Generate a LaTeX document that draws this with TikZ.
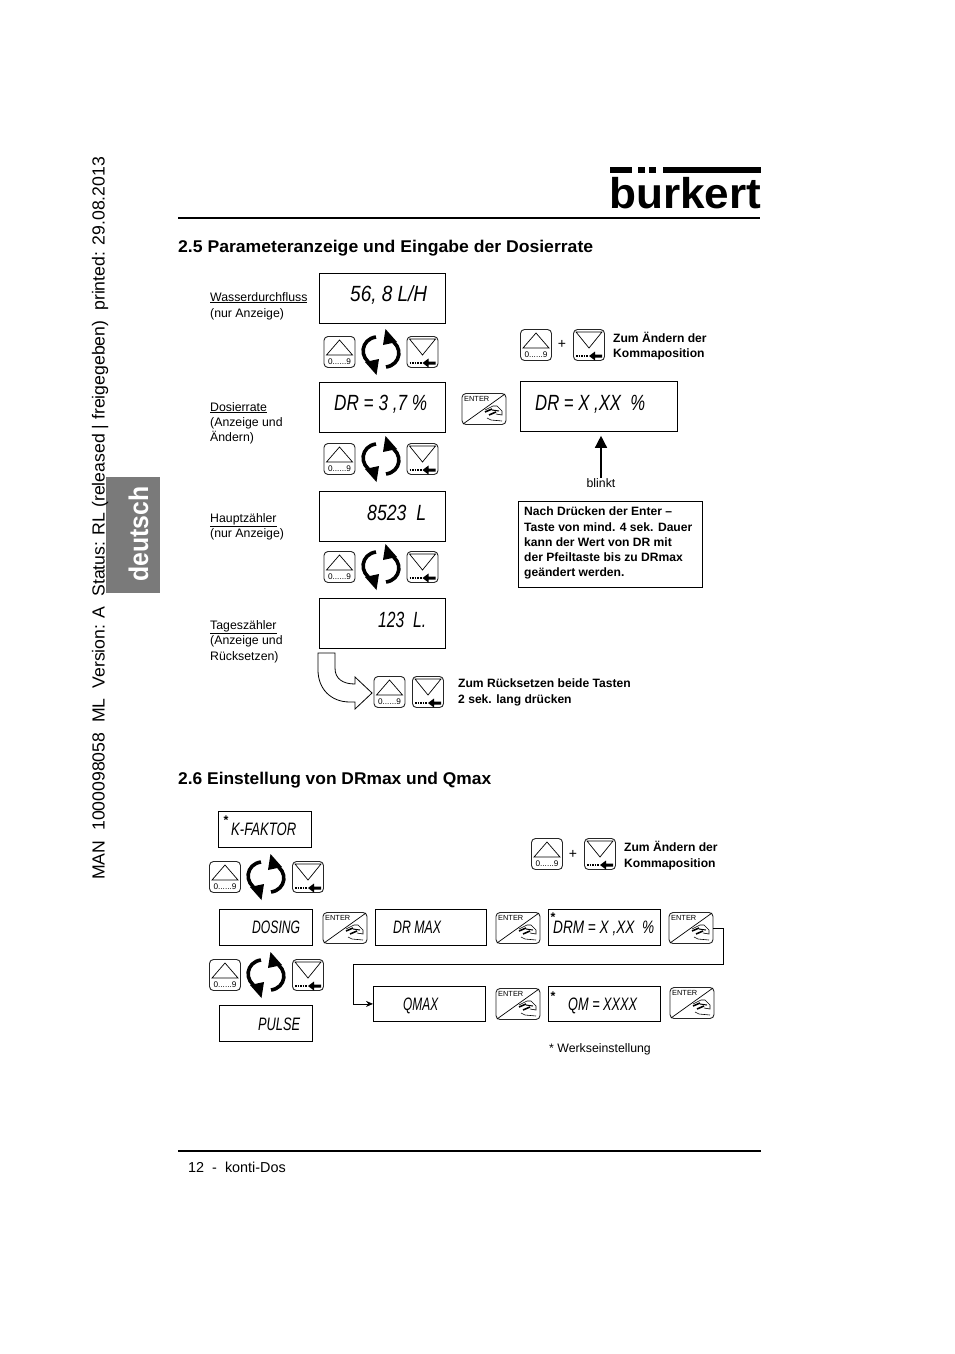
\documentclass[tikz,border=0pt]{standalone}
\usepackage{fontspec}
\setmainfont{Liberation Sans}
\usetikzlibrary{arrows.meta}
\newcommand{\fitw}[2]{\resizebox{#1pt}{\height}{#2}}
\newcommand{\lcdA}[2]{\resizebox{#1pt}{\height}{\fontsize{22}{22}\selectfont\itshape #2}}
\newcommand{\lcdB}[2]{\resizebox{#1pt}{\height}{\fontsize{18}{18}\selectfont\itshape #2}}
\tikzset{
  x=1pt,y=-1pt,
  disp/.style={draw=black,line width=0.8pt,anchor=north west,inner sep=0pt},
  lcdt/.style={anchor=base west,inner sep=0pt},
  lab/.style={anchor=base west,inner sep=0pt,font=\fontsize{12.3}{13}\selectfont},
  bold/.style={anchor=base west,inner sep=0pt,font=\fontsize{12.1}{13}\selectfont\bfseries},
  head/.style={anchor=base west,inner sep=0pt},
  keybox/.style={draw=black!85,line width=0.9pt,rounded corners=4pt,minimum width=31pt,minimum height=31pt,inner sep=0pt},
  enterbox/.style={draw=black!85,line width=0.9pt,rounded corners=4pt,minimum width=44pt,minimum height=31pt,inner sep=0pt},
  conn/.style={draw=black,line width=0.8pt},
  upkey/.pic={
    \node[keybox] (-box) at (0,0) {};
    \draw[line width=0.7pt] (-13,3) -- (0,-12) -- (13,3) -- cycle;
    \node[inner sep=0pt,font=\fontsize{8.2}{9}\selectfont] at (0,9.5) {0......9};
  },
  downkey/.pic={
    \node[keybox] (-box) at (0,0) {};
    \draw[line width=0.7pt] (-13,-13) -- (0,3) -- (13,-13) -- cycle;
    \draw[line width=1.7pt,dash pattern=on 1.6pt off 1pt] (-13,11) -- (-1,11);
    \fill (0,11) -- (6,6.5) -- (6,9.5) -- (13,9.5) -- (13,12.5) -- (6,12.5) -- (6,15.5) -- cycle;
  },
  enterkey/.pic={
    \node[enterbox] (-box) at (0,0) {};
    \draw[line width=0.7pt] (-21,15) -- (21,-15);
    \node[anchor=north west,inner sep=0pt,font=\fontsize{7.4}{8}\selectfont] at (-20,-12.5) {ENTER};
    \draw[line width=0.6pt] (1,1) -- (9,-3) -- (13,-3) -- (18,2) -- (18,6) -- (12,5);
    \draw[line width=0.6pt] (3,9) -- (7,11) -- (18,12);
    \draw[line width=1.6pt] (1,3) -- (8,0) (5,6) -- (12,3);
    \draw[line width=1pt] (8,1) -- (15,2);
  },
  cyclemark/.pic={
    \draw[line width=3.6pt] (-5,-15) .. controls (-20,-13) and (-23,6) .. (-8,13);
    \fill (-4.5,23) -- (-16,10) -- (-2,7) -- cycle;
    \draw[line width=3.6pt] (5,15) .. controls (20,13) and (23,-6) .. (8,-13);
    \fill (4.5,-23) -- (16,-10) -- (2,-7) -- cycle;
  },
}
\begin{document}
\begin{tikzpicture}
\useasboundingbox (0,0) rectangle (954,1354);
\fill[white] (0,0) rectangle (954,1354);
% side
\fill[fill=black!52] (106,477) rectangle (160,593);
\node[rotate=90,anchor=base west,inner sep=0pt] (side) at (104.5,880) {\fitw{723}{\fontsize{17.5}{18}\selectfont MAN~~1000098058~~ML~~Version: A~~Status: RL (released | freigegeben)~~printed: 29.08.2013}};
\node[rotate=90,anchor=base west,inner sep=0pt,text=white] (deu) at (148,582) {\fitw{95}{\fontsize{27}{28}\selectfont\bfseries deutsch}};
% logo
\fill (610,167) rectangle (632,173);
\fill (638,167) rectangle (645,173);
\fill (649,167) rectangle (656,173);
\fill (663,167) rectangle (761,173);
\node[anchor=base west,inner sep=0pt] (logo) at (609,208) {\fitw{152}{\fontsize{43}{44}\selectfont\bfseries burkert}};
\draw[line width=2pt] (178,218) -- (760,218);
\draw[line width=2pt] (178,1151) -- (761,1151);
\node[head] (pg) at (188,1172) {\fontsize{14.4}{15}\selectfont 12~~-~~konti-Dos};
\node[head] (t25) at (178,252) {\fitw{415}{\fontsize{17}{18}\selectfont\bfseries 2.5 Parameteranzeige und Eingabe der Dosierrate}};
\node[head] (t26) at (178,784) {\fitw{313}{\fontsize{17}{18}\selectfont\bfseries 2.6 Einstellung von DRmax und Qmax}};
% labels
\node[lab] (l1) at (210,301) {\underline{Wasserdurchfluss}};
\node[lab] (l1b) at (210,317) {(nur Anzeige)};
\node[lab] (l2) at (210,411) {\underline{Dosierrate}};
\node[lab] (l2b) at (210,426) {(Anzeige und};
\node[lab] (l2c) at (210,441) {Ändern)};
\node[lab] (l3) at (210,522) {\underline{Hauptzähler}};
\node[lab] (l3b) at (210,537) {(nur Anzeige)};
\node[lab] (l4) at (210,629) {\underline{Tageszähler}};
\node[lab] (l4b) at (210,644) {(Anzeige und};
\node[lab] (l4c) at (210,660) {Rücksetzen)};
% displays 2.5
\node[disp,minimum width=126pt,minimum height=50pt] (d1) at (319,273) {};
\node[disp,minimum width=126pt,minimum height=50pt] (d2) at (319,382) {};
\node[disp,minimum width=126pt,minimum height=50pt] (d3) at (319,491) {};
\node[disp,minimum width=126pt,minimum height=50pt] (d4) at (319,598) {};
\node[disp,minimum width=157pt,minimum height=50pt] (d5) at (520,381) {};
\node[lcdt] (d1t) at (350,301) {\lcdA{77}{56, 8 L/H}};
\node[lcdt] (d2t) at (334,410) {\lcdA{93}{DR = 3 ,7 \%}};
\node[lcdt] (d3t) at (367,520) {\lcdA{59}{8523~~L}};
\node[lcdt] (d4t) at (378,627) {\lcdA{48}{123~~L.}};
\node[lcdt] (d5t) at (535,410) {\lcdA{110}{DR = X ,XX~~\%}};
% key rows
\foreach \n/\y in {a/352,b/459,c/567}{
  \pic (u\n) at (339.5,\y) {upkey};
  \pic at (381,\y) {cyclemark};
  \pic (v\n) at (422.5,\y) {downkey};
}
\pic (ud) at (536,345) {upkey};
\node[inner sep=0pt,font=\fontsize{14}{14}\selectfont] (pl1) at (562,344) {+};
\pic (vd) at (589,345) {downkey};
\node[bold] (z1) at (613,342) {Zum Ändern der};
\node[bold] (z2) at (613,357) {Kommaposition};
\pic (e0) at (484,409) {enterkey};
% arrow and note
\node[anchor=north,inner sep=0pt,font=\fontsize{12.3}{13}\selectfont] (bl) at (601,478) {blinkt};
\draw[line width=1.4pt,-{Triangle[length=12pt,width=12pt]},shorten >=4pt] (bl.north) -- (d5.south -| bl.north);
\node[disp,minimum width=183.5pt,minimum height=86pt] (note) at (518,501) {};
\node[bold] (n1) at (524,515) {Nach Drücken der Enter –};
\node[bold] (n2) at (524,531) {Taste von mind. 4 sek. Dauer};
\node[bold] (n3) at (524,546) {kann der Wert von DR mit};
\node[bold] (n4) at (524,561) {der Pfeiltaste bis zu DRmax};
\node[bold] (n5) at (524,576) {geändert werden.};
% curved arrow
\draw[line width=0.8pt,fill=white] (318,653) -- (335,653) -- (335,668) .. controls (335,679) and (343,684) .. (355,684) -- (355,677) -- (372,693) -- (355,709) -- (355,702) -- (350,702) .. controls (330,702) and (318,688) .. (318,670) -- cycle;
\pic (ue) at (389.5,692) {upkey};
\pic (ve) at (428,692) {downkey};
\node[bold] (r1) at (458,687) {Zum Rücksetzen beide Tasten};
\node[bold] (r2) at (458,703) {2 sek. lang drücken};
% section 2.6
\node[disp,minimum width=93pt,minimum height=36pt] (k) at (218,811) {};
\node[lcdt] (kt) at (231,835) {\lcdB{65}{K-FAKTOR}};
\node[disp,minimum width=93pt,minimum height=36pt] (dos) at (219,909) {};
\node[lcdt] (dost) at (252,933) {\lcdB{48}{DOSING}};
\node[disp,minimum width=111pt,minimum height=36pt] (drm) at (375,909) {};
\node[lcdt] (drmt) at (393,933) {\lcdB{48}{DR MAX}};
\node[disp,minimum width=112pt,minimum height=36pt] (drq) at (548,909) {};
\node[lcdt] (drqt) at (553,933) {\lcdB{101}{DRM = X ,XX~~\%}};
\node[disp,minimum width=93pt,minimum height=36pt] (pul) at (219,1005) {};
\node[lcdt] (pult) at (258,1030) {\lcdB{42}{PULSE}};
\node[disp,minimum width=112pt,minimum height=35pt] (qmx) at (373,986) {};
\node[lcdt] (qmxt) at (403,1010) {\lcdB{35}{QMAX}};
\node[disp,minimum width=112pt,minimum height=35pt] (qm) at (548,986) {};
\node[lcdt] (qmt) at (568,1010) {\lcdB{69}{QM = XXXX}};
\node[inner sep=0pt,font=\fontsize{12.5}{13}\selectfont\bfseries] (s1) at (226,820) {*};
\node[inner sep=0pt,font=\fontsize{12.5}{13}\selectfont\bfseries] (s2) at (553,917) {*};
\node[inner sep=0pt,font=\fontsize{12.5}{13}\selectfont\bfseries] (s3) at (553,996) {*};
\foreach \n/\y in {f/877,g/975}{
  \pic (u\n) at (225,\y) {upkey};
  \pic at (266,\y) {cyclemark};
  \pic (v\n) at (308,\y) {downkey};
}
\pic (uh) at (547,854) {upkey};
\node[inner sep=0pt,font=\fontsize{14}{14}\selectfont] (pl2) at (573,854) {+};
\pic (vh) at (600,854) {downkey};
\node[bold] (z3) at (624,851) {Zum Ändern der};
\node[bold] (z4) at (624,867) {Kommaposition};
\pic (e1) at (345,928) {enterkey};
\pic (e2) at (518,928) {enterkey};
\pic (e3) at (691,928) {enterkey};
\pic (e4) at (518,1004) {enterkey};
\pic (e5) at (692,1003) {enterkey};
\node[lab] (w) at (549,1052) {* Werkseinstellung};
\coordinate (c1) at (723,964);
\coordinate (c2) at (353,964);
\draw[conn,-{Stealth[length=7pt,width=6pt]}] (e3-box.east) -| (c1) -- (c2) |- (qmx.west);
\end{tikzpicture}
\end{document}
